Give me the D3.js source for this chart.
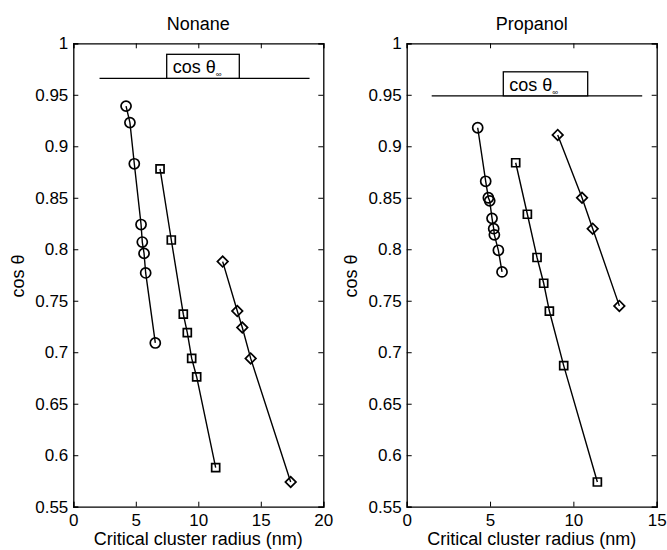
<!DOCTYPE html>
<html>
<head>
<meta charset="utf-8">
<script src="https://cdn.jsdelivr.net/npm/d3@7"></script>
<style>
  body { margin: 0; background: #fff; }
  svg { display: block; font-family: "Liberation Sans", Arial, sans-serif; }
</style>
</head>
<body>
<div id="chart"></div>
<script>
// Nonane panel data
const nonaneCircleX = [4.22, 4.53, 4.88, 5.42, 5.52, 5.66, 5.79, 6.56];
const nonaneCircleY = [0.939, 0.923, 0.883, 0.824, 0.807, 0.796, 0.777, 0.709];
const nonaneSquareX = [6.94, 7.84, 8.80, 9.12, 9.47, 9.87, 11.39];
const nonaneSquareY = [0.878, 0.809, 0.737, 0.719, 0.694, 0.676, 0.588];
const nonaneDiamondX = [11.95, 13.12, 13.52, 14.19, 17.39];
const nonaneDiamondY = [0.788, 0.740, 0.724, 0.694, 0.574];
const nonaneCosInf = 0.966;
const nonaneCosInfX = [2.1, 18.9];

// Propanol panel data
const propCircleX = [4.26, 4.74, 4.90, 4.98, 5.12, 5.22, 5.26, 5.50, 5.72];
const propCircleY = [0.918, 0.866, 0.850, 0.847, 0.830, 0.820, 0.814, 0.799, 0.778];
const propSquareX = [6.54, 7.24, 7.82, 8.22, 8.56, 9.42, 11.44];
const propSquareY = [0.884, 0.834, 0.792, 0.767, 0.740, 0.687, 0.574];
const propDiamondX = [9.06, 10.52, 11.16, 12.76];
const propDiamondY = [0.911, 0.850, 0.820, 0.745];
const propCosInf = 0.949;
const propCosInfX = [1.5, 14.13];

const yTicks = [0.55, 0.6, 0.65, 0.7, 0.75, 0.8, 0.85, 0.9, 0.95, 1];
const nonaneXTicks = [0, 5, 10, 15, 20];
const propXTicks = [0, 5, 10, 15];

const W = 667, H = 550;
const TICK_FONT = 17;
const FONT = 18;

const svg = d3.select("#chart").append("svg")
  .attr("width", W)
  .attr("height", H);
svg.append("rect").attr("width", W).attr("height", H).attr("fill", "#fff");

const zip = (xs, ys) => xs.map((x, i) => ({ x, y: ys[i] }));

const drawPanel = (opt) => {
  const x = d3.scaleLinear().domain(opt.xDomain).range([opt.left, opt.right]);
  const y = d3.scaleLinear().domain([0.55, 1]).range([506.7, 43.3]);
  const g = svg.append("g");

  // box axes, ticks pointing in
  const fmtY = (d) => String(+d.toFixed(2));
  const axL = g.append("g").attr("transform", `translate(${opt.left},0)`)
    .call(d3.axisLeft(y).tickValues(yTicks).tickSize(-5).tickPadding(5).tickFormat(fmtY));
  const axR = g.append("g").attr("transform", `translate(${opt.right},0)`)
    .call(d3.axisRight(y).tickValues(yTicks).tickSize(-5).tickFormat(""));
  const axB = g.append("g").attr("transform", "translate(0,506.7)")
    .call(d3.axisBottom(x).tickValues(opt.xTicks).tickSize(-5).tickPadding(4).tickFormat(d3.format("d")));
  const axT = g.append("g").attr("transform", "translate(0,43.3)")
    .call(d3.axisTop(x).tickValues(opt.xTicks).tickSize(-5).tickFormat(""));
  [axL, axR, axB, axT].forEach((a) => {
    a.select(".domain").attr("stroke", "#000").attr("stroke-width", 1.3);
    a.selectAll(".tick line").attr("stroke", "#000");
    a.selectAll("text").attr("font-size", TICK_FONT).attr("fill", "#000")
      .attr("font-family", "Liberation Sans, Arial, sans-serif");
  });
  axB.selectAll("text").attr("dy", "0.9em");

  // title and labels
  g.append("text").attr("x", (opt.left + opt.right) / 2).attr("y", 30)
    .attr("text-anchor", "middle").attr("font-size", FONT).text(opt.title);
  g.append("text").attr("x", (opt.left + opt.right) / 2).attr("y", 545)
    .attr("text-anchor", "middle").attr("font-size", FONT).text("Critical cluster radius (nm)");
  g.append("text")
    .attr("transform", `translate(${opt.left - 49.5},276) rotate(-90)`)
    .attr("text-anchor", "middle").attr("font-size", FONT).text("cos θ");

  // cos theta infinity line with label box
  const yc = y(opt.cosInf);
  g.append("line")
    .attr("x1", x(opt.cosInfX[0])).attr("x2", x(opt.cosInfX[1]))
    .attr("y1", yc).attr("y2", yc)
    .attr("stroke", "#000").attr("stroke-width", 1.3);
  g.append("rect")
    .attr("x", opt.boxX).attr("y", yc - 24).attr("width", opt.boxW).attr("height", 24)
    .attr("fill", "#fff").attr("stroke", "#000").attr("stroke-width", 1.3);
  const lbl = g.append("text").attr("x", opt.boxX + 6).attr("y", yc - 5)
    .attr("font-size", FONT);
  lbl.append("tspan").text("cos θ");
  lbl.append("tspan").attr("font-size", 8).attr("dy", 4).text("∞");

  const line = d3.line().x((d) => x(d.x)).y((d) => y(d.y));
  const series = [
    { data: zip(opt.circle[0], opt.circle[1]), sym: d3.symbolCircle, size: 80, rot: 0 },
    { data: zip(opt.square[0], opt.square[1]), sym: d3.symbolSquare, size: 64, rot: 0 },
    { data: zip(opt.diamond[0], opt.diamond[1]), sym: d3.symbolSquare, size: 56, rot: 45 }
  ];
  series.forEach((s) => {
    g.append("path").datum(s.data).attr("d", line)
      .attr("fill", "none").attr("stroke", "#000").attr("stroke-width", 1.4);
    g.selectAll(null).data(s.data).enter().append("path")
      .attr("transform", (d) => `translate(${x(d.x)},${y(d.y)}) rotate(${s.rot})`)
      .attr("d", d3.symbol().type(s.sym).size(s.size))
      .attr("fill", "none").attr("stroke", "#000").attr("stroke-width", 1.7);
  });
};

drawPanel({
  title: "Nonane", left: 73.3, right: 323.3, xDomain: [0, 20], xTicks: nonaneXTicks,
  circle: [nonaneCircleX, nonaneCircleY], square: [nonaneSquareX, nonaneSquareY],
  diamond: [nonaneDiamondX, nonaneDiamondY],
  cosInf: nonaneCosInf, cosInfX: nonaneCosInfX, boxX: 166.7, boxW: 72.6
});
drawPanel({
  title: "Propanol", left: 406.7, right: 656.7, xDomain: [0, 15], xTicks: propXTicks,
  circle: [propCircleX, propCircleY], square: [propSquareX, propSquareY],
  diamond: [propDiamondX, propDiamondY],
  cosInf: propCosInf, cosInfX: propCosInfX, boxX: 503.3, boxW: 84.4
});
</script>
</body>
</html>
